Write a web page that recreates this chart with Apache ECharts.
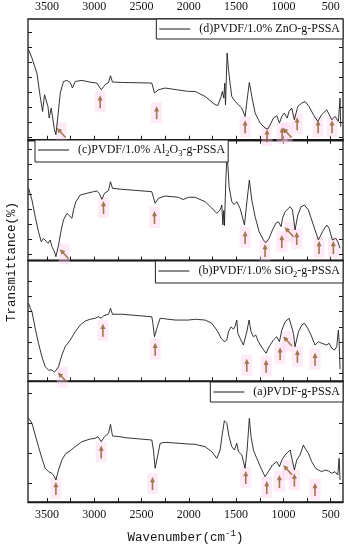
<!DOCTYPE html>
<html>
<head>
<meta charset="utf-8">
<script src="https://cdn.jsdelivr.net/npm/echarts@6/dist/echarts.min.js"></script>
<style>html,body{margin:0;padding:0;background:#fff;}#c{width:350px;height:550px;}</style>
</head>
<body>
<div id="c"></div>
<script>
// ---- data (wavenumber cm-1, relative transmittance within each panel) ----
const seriesNames = ['(d)PVDF/1.0% ZnO-g-PSSA', '(c)PVDF/1.0% Al2O3-g-PSSA', '(b)PVDF/1.0% SiO2-g-PSSA', '(a)PVDF-g-PSSA'];
const legendLabels = ['(d)PVDF/1.0% ZnO-g-PSSA', '(c)PVDF/1.0% Al{s|2}O{s|3}-g-PSSA', '(b)PVDF/1.0% SiO{s|2}-g-PSSA', '(a)PVDF-g-PSSA'];
const xTickValues = [3500, 3250, 3000, 2750, 2500, 2250, 2000, 1750, 1500, 1250, 1000, 750, 500];
const xLabelValues = [3500, 3000, 2500, 2000, 1500, 1000, 500];

const specD = [[3694,90],[3658,81.7],[3606,66.7],[3571,43.3],[3546,28.3],[3525,45],[3511,46.7],[3489,33.3],[3476,21.7],[3455,31.7],[3420,10],[3405,5],[3384,23.3],[3359,46.7],[3325,58.3],[3289,59.3],[3254,57.3],[3230,51.7],[3201,58.3],[3130,59.3],[3025,57.3],[2972,56.7],[2926,50],[2884,55],[2849,57.3],[2828,64],[2807,57.7],[2708,57.3],[2391,56.7],[2363,46.7],[2321,50],[2250,51.7],[2004,48.3],[1933,48.3],[1828,43.3],[1722,35],[1693,34.3],[1658,43.3],[1645,48.3],[1630,41.7],[1620,56.7],[1612,35],[1595,86.7],[1580,70],[1564,56.7],[1546,43.3],[1511,38.3],[1440,31.7],[1405,23.3],[1377,45],[1360,57.3],[1334,43.3],[1299,26.7],[1246,16.7],[1194,11.7],[1165,10.7],[1130,16.7],[1106,21.7],[1070,24],[1042,16.7],[1017,23.3],[990,26.7],[961,21.7],[940,28.3],[912,31.7],[884,20],[848,33.3],[806,36.7],[771,38.3],[729,33.3],[683,25],[637,18.3],[595,25],[542,30],[489,20],[454,23.3],[419,18.3],[401,41.7],[394,13]];
const specC = [[3694,72.2],[3658,60.5],[3624,43.8],[3589,28.8],[3560,18.8],[3536,22.2],[3518,23.8],[3489,17.2],[3465,20.5],[3447,13.8],[3420,8.8],[3405,3.8],[3377,15.5],[3349,30.5],[3325,40.5],[3289,47.2],[3268,47.5],[3236,42.2],[3219,50.5],[3194,58.8],[3148,65.5],[3077,67.2],[3008,68.8],[2972,69.5],[2947,67.2],[2919,61.2],[2891,67.2],[2849,69.8],[2828,78.8],[2807,72.2],[2708,71.2],[2391,68.8],[2356,57.2],[2321,62.2],[2250,64.5],[2110,63.2],[2060,61],[2004,63.2],[1933,63.2],[1828,58.8],[1757,52.5],[1704,47.2],[1669,50.5],[1651,55.5],[1640,35.5],[1630,50],[1623,35],[1609,80],[1595,108.5],[1574,73.8],[1546,58.8],[1521,56],[1493,58.8],[1458,52.2],[1412,35.5],[1384,60.5],[1360,80.5],[1334,60.5],[1299,43.8],[1257,28.8],[1211,20.5],[1186,17.8],[1151,22.2],[1116,30.5],[1080,37.2],[1053,38.8],[1024,33.8],[1010,42.2],[982,48.8],[929,53.8],[904,50.5],[877,30.5],[848,45.5],[813,53.8],[778,55.5],[736,50.5],[683,35.5],[630,20.5],[587,28.8],[542,35.5],[517,32.2],[482,20.5],[447,22.2],[425,18.8],[401,12.2]];
const specB = [[3694,78],[3676,73],[3658,69.5],[3624,53],[3589,38],[3553,24.5],[3518,14.5],[3483,11.2],[3447,11.2],[3420,9],[3405,8],[3377,14.5],[3342,26.2],[3307,34.5],[3254,41.2],[3201,49.5],[3148,56.2],[3095,60.2],[3043,62],[2990,63],[2955,64.5],[2926,63],[2902,65.5],[2849,67],[2828,73],[2807,67],[2708,67],[2391,64.5],[2380,58],[2363,44.5],[2338,53],[2303,63],[2144,61.2],[2004,61.2],[1933,62],[1828,61.2],[1757,58],[1704,51.2],[1658,43],[1624,39.5],[1598,41.2],[1581,49.5],[1553,54.5],[1528,52],[1511,55],[1493,61.2],[1482,48],[1458,43],[1423,36.2],[1387,49.5],[1363,61.2],[1342,49.5],[1317,44.5],[1292,46.2],[1264,39.5],[1222,33],[1183,28],[1151,34.5],[1106,41.2],[1070,44.5],[1042,39.5],[1017,51.2],[982,59.5],[940,63],[919,63],[894,48],[877,34.5],[841,49.5],[806,56.2],[778,58],[743,53],[708,46.2],[666,36.2],[630,39.5],[595,38],[542,36.2],[517,38],[489,33],[461,31.2],[436,34.5],[419,51.2],[411,40],[401,12]];
const specA = [[3694,83.7],[3658,78.7],[3624,67],[3589,55.3],[3553,43.7],[3518,33.7],[3483,30.3],[3447,28.7],[3420,25.3],[3405,22],[3377,32],[3342,42],[3299,48.7],[3254,51.3],[3201,55.3],[3130,60.3],[3043,63],[2990,63.7],[2961,65.3],[2926,60.3],[2891,65.3],[2849,68.7],[2828,77.7],[2807,66],[2726,65.3],[2708,66],[2673,64.3],[2391,62],[2374,52],[2356,33.7],[2338,42],[2328,40.3],[2303,58.7],[2250,59.7],[2004,58],[1933,57.7],[1828,55.3],[1757,50.3],[1704,43.7],[1669,52],[1645,68.7],[1624,81.3],[1598,78.7],[1574,65.3],[1546,55.3],[1518,52],[1493,58.7],[1476,50.3],[1440,47],[1405,33.7],[1384,52],[1360,83.7],[1342,65.3],[1317,52],[1282,43.7],[1236,33.7],[1194,25.3],[1159,30.3],[1116,37],[1070,40.3],[1042,35.3],[1017,42],[982,47],[929,52],[908,50.3],[884,32],[859,42],[824,47],[789,57],[771,53.7],[736,48.7],[701,40.3],[658,33.7],[630,32],[595,30.3],[560,32],[524,31],[489,28.7],[454,30.3],[425,27],[411,43.7],[401,22]];

// band markers (arrows) : upright ones and tilted ones
const upArrowsD = [[2937,38],[2340,27],[1405,13],[1173,4],[1014,6],[855,16],[633,13],[486,13]];
const tiltArrowsD = [[3349,7],[961,7]];
const upArrowsC = [[2902,53],[2363,43],[1405,23],[1194,10],[1017,19],[859,22],[623,13],[472,13]];
const tiltArrowsC = [[3317,6.5],[940,28.5]];
const upArrowsB = [[2908,51],[2356,32],[1387,16],[1183,15],[1035,27.5],[852,25],[666,22]];
const tiltArrowsB = [[3338,4],[956,40]];
const upArrowsA = [[3405,13.5],[2926,50],[2384,18.5],[1398,24.5],[1176,14.5],[1042,20.5],[884,22],[666,12.5]];
const tiltArrowsA = [[956,32]];

const specs = [specD, specC, specB, specA];
const upArrows = [upArrowsD, upArrowsC, upArrowsB, upArrowsA];
const tiltArrows = [tiltArrowsD, tiltArrowsC, tiltArrowsB, tiltArrowsA];
const yTicks = [
  [2.5,17.5,32.5,47.5,62.5,77.5,92.5,107.5],
  [6,21,36,51,66,81,96,111],
  [8,23.4,38.8,54.2,69.6,85,100.4],
  [19,49,79,109]
];

// ---- layout ----
const tops = [19, 139.75, 260.5, 381.25];
const H = 120.75;
const serif = '"Liberation Serif", "Times New Roman", serif';
const mono = '"Liberation Mono", monospace';
const ARROW = 'path://M5,0 L10,8 L6.6,8 L6.6,20 L3.4,20 L3.4,8 L0,8 Z';
const plain = v => String(v);

const grid = tops.map(t => ({left: 28, right: 7, top: t, height: H, show: true, borderColor: '#1a1a1a', borderWidth: 1.3, backgroundColor: 'transparent'}));

const xAxis = [];
const yAxis = [];
for (let i = 0; i < 4; i++) {
  xAxis.push({
    type: 'value', gridIndex: i, min: 370, max: 3700, inverse: true, position: 'bottom',
    axisLine: {show: true, lineStyle: {color: '#1a1a1a', width: 1.3}},
    axisTick: {show: true, inside: true, length: 4, customValues: xTickValues, lineStyle: {color: '#1a1a1a'}},
    axisLabel: {show: i === 3, customValues: xLabelValues, formatter: plain, margin: 7, color: '#111', fontFamily: serif, fontSize: 12},
    splitLine: {show: false},
    name: i === 3 ? '{a|Wavenumber(cm}{s|-1}{a|)}' : '',
    nameLocation: 'middle', nameGap: 27,
    nameTextStyle: {color: '#111', rich: {
      a: {fontFamily: mono, fontSize: 12.5, color: '#111'},
      s: {fontFamily: mono, fontSize: 9, color: '#111', padding: [0, 0, 8, 0]}
    }}
  });
  yAxis.push({
    type: 'value', gridIndex: i, min: 0, max: H, position: 'left',
    axisLine: {show: false},
    axisTick: {show: true, inside: true, length: 4, customValues: yTicks[i], lineStyle: {color: '#1a1a1a'}},
    axisLabel: {show: false}, splitLine: {show: false}
  });
  yAxis.push({
    type: 'value', gridIndex: i, min: 0, max: H, position: 'right',
    axisLine: {show: false},
    axisTick: {show: true, inside: true, length: 4, customValues: yTicks[i], lineStyle: {color: '#1a1a1a'}},
    axisLabel: {show: false}, splitLine: {show: false}
  });
}
// top axis with labels
xAxis.push({
  type: 'value', gridIndex: 0, min: 370, max: 3700, inverse: true, position: 'top',
  axisLine: {show: true, lineStyle: {color: '#1a1a1a', width: 1.3}},
  axisTick: {show: true, inside: true, length: 4, customValues: xTickValues, lineStyle: {color: '#1a1a1a'}},
  axisLabel: {show: true, customValues: xLabelValues, formatter: plain, margin: 6, color: '#111', fontFamily: serif, fontSize: 12},
  splitLine: {show: false}
});

const series = [];
for (let i = 0; i < 4; i++) {
  const allArrows = upArrows[i].concat(tiltArrows[i]);
  series.push({
    type: 'scatter', xAxisIndex: i, yAxisIndex: 2 * i, data: allArrows, symbol: 'rect', symbolSize: [11, 21],
    itemStyle: {color: 'rgba(255,205,238,0.5)'}, silent: true, z: 1
  });
  series.push({
    name: seriesNames[i], type: 'line', xAxisIndex: i, yAxisIndex: 2 * i, data: specs[i],
    symbol: 'none', showSymbol: false, lineStyle: {color: '#1e1e1e', width: 0.9}, itemStyle: {color: '#1e1e1e'},
    z: 2, animation: false
  });
  series.push({
    type: 'scatter', xAxisIndex: i, yAxisIndex: 2 * i, data: upArrows[i], symbol: ARROW, symbolSize: [5, 13],
    itemStyle: {color: '#8a5a22'}, silent: true, z: 3
  });
  series.push({
    type: 'scatter', xAxisIndex: i, yAxisIndex: 2 * i, data: tiltArrows[i], symbol: ARROW, symbolSize: [5, 13], symbolRotate: 42,
    itemStyle: {color: '#8a5a22'}, silent: true, z: 3
  });
}

const legendPos = [
  {right: 7, top: 19},
  {left: 35, top: 140},
  {right: 7, top: 261},
  {right: 7, top: 382}
];
const legend = legendPos.map((p, i) => Object.assign({
  data: [seriesNames[i]], orient: 'horizontal', icon: 'path://M0,0 L30,0 L30,1 L0,1 Z',
  itemWidth: 31, itemHeight: 10, itemGap: 4, padding: [4, 3, 4, 3],
  borderColor: '#222', borderWidth: 1, backgroundColor: '#fff',
  selectedMode: false,
  formatter: () => legendLabels[i],
  textStyle: {fontFamily: serif, fontSize: 12, color: '#111', padding: [0, 0, 0, 4], rich: {
    s: {fontFamily: serif, fontSize: 8.5, color: '#111', padding: [7, 0, 0, 0]}
  }}
}, p));

const chart = echarts.init(document.getElementById('c'), null, {renderer: 'canvas'});
chart.setOption({
  animation: false,
  backgroundColor: '#fff',
  grid, xAxis, yAxis, series, legend,
  graphic: [{
    type: 'text', x: 12, y: 262, rotation: Math.PI / 2,
    style: {text: 'Transmittance(%)', fill: '#111', font: '12.5px ' + mono, align: 'center', verticalAlign: 'middle'}
  }]
});
</script>
</body>
</html>
